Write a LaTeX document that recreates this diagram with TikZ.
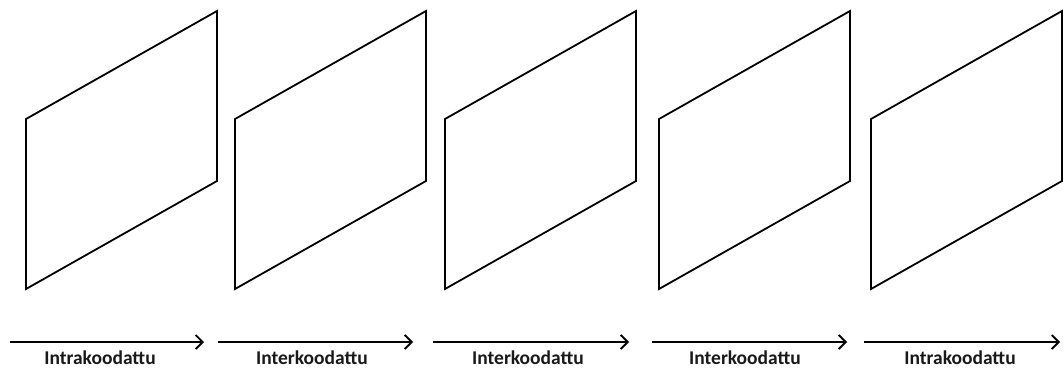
\documentclass[tikz,border=0pt]{standalone}
\usepackage{fontspec}
\setmainfont{Carlito}
\usetikzlibrary{arrows.meta}
\tikzset{
  frame/.style={line width=1.8pt, line join=miter},
  flow/.style={line width=1.8pt, -{Straight Barb[length=7pt,width=14pt,line width=1.8pt]}},
  lab/.style={font=\bfseries\fontsize{19.5}{20}\selectfont, anchor=base, inner sep=0pt, text=black!90}
}
\begin{document}
\begin{tikzpicture}[x=1pt,y=-1pt]
\useasboundingbox (0,0) rectangle (1064,367);
\fill[white] (0,0) rectangle (1064,367);
% frames
\foreach \i/\L in {1/26,2/235,3/445,4/659,5/871}{
  \coordinate (f\i tl) at (\L,119);
  \coordinate (f\i bl) at (\L,289);
  \coordinate (f\i tr) at (\L+191,11);
  \coordinate (f\i br) at (\L+191,181);
  \draw[frame] (f\i tl) -- (f\i tr) -- (f\i br) -- (f\i bl) -- cycle;
}
% arrows
\foreach \i/\a/\b in {1/10/204,2/218/413,3/433/629,4/652/847,5/864/1060}{
  \coordinate (a\i s) at (\a,342);
  \coordinate (a\i e) at (\b,342);
  \draw[flow] (a\i s) -- (a\i e);
}
% labels
\node[lab] (l1) at (100,364) {Intrakoodattu};
\node[lab] (l2) at (312,364) {Interkoodattu};
\node[lab] (l3) at (528,364) {Interkoodattu};
\node[lab] (l4) at (745,364) {Interkoodattu};
\node[lab] (l5) at (960,364) {Intrakoodattu};
\end{tikzpicture}
\end{document}
